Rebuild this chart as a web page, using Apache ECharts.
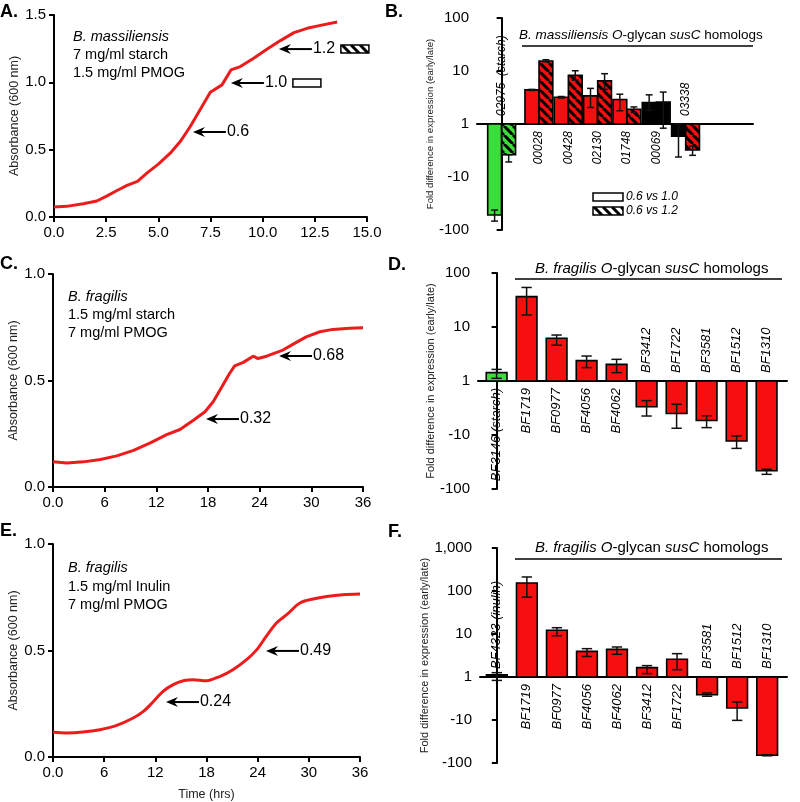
<!DOCTYPE html>
<html><head><meta charset="utf-8">
<script src="https://cdn.jsdelivr.net/npm/echarts@6/dist/echarts.min.js"></script>
<style>html,body{margin:0;padding:0;background:#fff}#c{width:800px;height:802px}</style>
</head><body><div id="c"></div><script>
// ---------------- DATA ----------------
// Panel A: growth curve B. massiliensis (hours, OD600)
const timeA = [0,0.6,1.4,2.05,2.5,3.0,3.5,4.0,4.45,5.0,5.57,6.05,6.53,7.0,7.49,8.05,8.48,8.93,9.57,10.2,10.85,11.5,12.13,12.77,13.57];
const odA   = [0.074,0.079,0.099,0.119,0.153,0.195,0.235,0.264,0.326,0.393,0.474,0.56,0.672,0.796,0.927,0.981,1.092,1.117,1.179,1.245,1.31,1.369,1.401,1.423,1.448];
const arrowsA = [[6.61,0.631,'0.6'],[8.43,0.995,'1.0'],[10.73,1.247,'1.2']];

// Panel B: B. massiliensis fold differences
const genesB = ['02975  (starch)','00028','00428','02130','01748','00069','03338'];
const foldB10 = [-52, 4.4, 3.2, 3.4, 2.9, 2.55, -1.7];
const loB10   = [-68, 4.3, 3.1, 2.05, 1.78, 1.8, -4.2];
const hiB10   = [-42, 4.5, 3.3, 4.7, 3.65, 3.55, -1.0];
const foldB12 = [-3.8, 15.4, 8.3, 6.5, 1.9, 2.6, -3.1];
const loB12   = [-5.2, 15.0, 6.7, 4.5, 1.65, -1.2, -3.9];
const hiB12   = [-3.8, 16.3, 10.1, 8.9, 2.1, 4.0, -2.6];

// Panel C: growth curve B. fragilis starch
const timeC = [0,1.6,3.55,5.5,7.4,9.35,11.3,13.2,14.75,16.3,17.65,18.6,19.6,20.5,21.1,22.1,23.25,23.8,24.8,26.7,27.9,29.4,31,32.5,34.45,36];
const odC   = [0.118,0.113,0.118,0.129,0.146,0.172,0.207,0.246,0.27,0.313,0.353,0.4,0.47,0.533,0.569,0.585,0.614,0.603,0.614,0.643,0.671,0.705,0.729,0.74,0.745,0.748];
const arrowsC = [[26.13,0.615,'0.68'],[17.65,0.319,'0.32']];

// Panel D
const genesD = ['BF3146 (starch)','BF1719','BF0977','BF4056','BF4062','BF3412','BF1722','BF3581','BF1512','BF1310'];
const foldD = [1.43, 36.5, 6.2, 2.38, 2.03, -3.0, -4.0, -5.4, -12.9, -46];
const loD   = [1.12, 16.7, 4.6, 1.77, 1.43, -4.45, -7.5, -7.3, -17.7, -53.5];
const hiD   = [1.64, 54, 7.1, 2.9, 2.52, -2.31, -2.7, -4.4, -10.4, -43];

// Panel E: growth curve B. fragilis inulin
const timeE = [0,1.56,3.5,5.5,7.4,9.4,10.6,11.7,12.9,14.1,15.3,16.4,18,19.6,21.1,22.7,23.9,25.0,26.2,27.4,28.95,30.5,32.1,34.0,36];
const odE   = [0.116,0.113,0.117,0.128,0.147,0.183,0.214,0.257,0.308,0.34,0.358,0.363,0.358,0.379,0.41,0.457,0.504,0.566,0.629,0.668,0.723,0.742,0.754,0.762,0.765];
const arrowsE = [[24.86,0.498,'0.49'],[13.13,0.258,'0.24']];

// Panel F
const genesF = ['BF4323 (inulin)','BF1719','BF0977','BF4056','BF4062','BF3412','BF1722','BF3581','BF1512','BF1310'];
const foldF = [1.13, 153, 12.2, 3.95, 4.4, 1.65, 2.58, -2.58, -5.26, -66];
const loF   = [-1.2, 72, 9.1, 3.0, 3.37, 1.2, 1.48, -2.8, -10.2, -68];
const hiF   = [1.26, 212, 14, 4.56, 4.99, 1.84, 3.49, -2.35, -3.8, -64];

// ---------------- STYLE / LAYOUT ----------------
const FONT = '"Liberation Sans", Arial, sans-serif';
const RED = '#f50f0f', GREEN = '#3ddc3d', BLACK = '#000', LINE_RED = '#ec1c1c';

function slog(v){ return v >= 1 ? Math.log10(v) : (v <= -1 ? -Math.log10(-v) : 0); }
function fmtLog(v){ const n = Math.round(Math.pow(10, Math.abs(v))); const s = n.toLocaleString('en-US'); return v < 0 ? '-' + s : s; }

const patCache = {};
function hatch(bg){
  if (patCache[bg]) return patCache[bg];
  const s = 9, c = document.createElement('canvas'); c.width = s; c.height = s;
  const g = c.getContext('2d'); g.fillStyle = bg; g.fillRect(0,0,s,s);
  g.strokeStyle = '#000'; g.lineWidth = 3; g.beginPath();
  for (let k=-1;k<=1;k++){ g.moveTo(k*s,0); g.lineTo(k*s+s,s); }
  g.stroke();
  return (patCache[bg] = {image:c, repeat:'repeat'});
}

function pairs(xs, ys){ return xs.map((x,i)=>[x, ys[i]]); }

function vtext(x, y, text, align, fs){
  return {type:'text', x, y, rotation:Math.PI/2,
    style:{text, fontSize:fs, fontFamily:FONT, fontStyle:'italic', fill:'#000', align, verticalAlign:'middle'}};
}

function barSeries(idx, bars, fs){
  return {
    type:'custom', xAxisIndex:idx, yAxisIndex:idx, silent:true, z:3, clip:false,
    data: bars.map((b,i)=>[b.x, slog(b.v), slog(b.lo), slog(b.hi), i]),
    renderItem(params, api){
      const b = bars[params.dataIndex];
      const x = api.value(0);
      const top = api.coord([x, api.value(1)]);
      const base = api.coord([x, 0]);
      const w = api.size([b.w, 0])[0];
      const lo = api.coord([x, api.value(2)]), hi = api.coord([x, api.value(3)]);
      const cw = w * 0.5;
      const ch = [
        {type:'rect', shape:{x: top[0]-w/2, y: Math.min(top[1], base[1]), width: w, height: Math.abs(base[1]-top[1])},
         style:{fill: b.hatch ? hatch(b.color) : b.color, stroke:'#000', lineWidth:1.6}},
        {type:'line', shape:{x1: top[0], y1: lo[1], x2: top[0], y2: hi[1]}, style:{stroke:'#111', lineWidth:1.5}},
        {type:'line', shape:{x1: top[0]-cw/2, y1: lo[1], x2: top[0]+cw/2, y2: lo[1]}, style:{stroke:'#111', lineWidth:1.5}},
        {type:'line', shape:{x1: top[0]-cw/2, y1: hi[1], x2: top[0]+cw/2, y2: hi[1]}, style:{stroke:'#111', lineWidth:1.5}}
      ];
      if (b.label){
        const lx = b.lx !== undefined ? api.coord([b.lx, 0])[0] : top[0];
        ch.push(b.labelAbove ? vtext(lx, base[1]-8, b.label, 'left', fs) : vtext(lx, base[1]+7, b.label, 'right', fs));
      }
      return {type:'group', children: ch};
    }
  };
}

function arrowSeries(idx, anns){
  return {
    type:'custom', xAxisIndex:idx, yAxisIndex:idx, silent:true, z:5, clip:false,
    data: anns.map((a,i)=>[a[0], a[1], i]),
    renderItem(params, api){
      const a = anns[params.dataIndex];
      const p = api.coord([api.value(0), api.value(1)]);
      const x = p[0] + 1, y = p[1];
      const ch = [
        {type:'polygon', shape:{points:[[x,y],[x+12,y-5],[x+8,y],[x+12,y+5]]}, style:{fill:'#000'}},
        {type:'line', shape:{x1:x+8, y1:y, x2:x+33, y2:y}, style:{stroke:'#000', lineWidth:2}},
        {type:'text', x:x+34, y:y, style:{text:a[2], fontSize:16, fontFamily:FONT, fill:'#000', align:'left', verticalAlign:'middle'}}
      ];
      if (a[2] === '1.0' || a[2] === '1.2'){
        ch.push({type:'rect', shape:{x:x+62, y:y-4, width:28, height:8},
          style:{fill: a[2] === '1.2' ? hatch('#fff') : '#fff', stroke:'#000', lineWidth:1.5}});
      }
      return {type:'group', children: ch};
    }
  };
}

// Build bar lists
const barsB = [];
genesB.forEach((g,i)=>{
  const cx = i + (i > 0 ? 0.27 : 0);
  const c1 = i === 0 ? GREEN : (i >= 5 ? BLACK : RED);
  const c2 = i === 0 ? GREEN : (i === 5 ? BLACK : RED);
  const above = slog(foldB10[i]) < 0.1;
  barsB.push({x: cx-0.24, v: foldB10[i], lo: loB10[i], hi: hiB10[i], color: c1, hatch:false, w:0.47,
              label: g, labelAbove: above, lx: cx});
  barsB.push({x: cx+0.24, v: foldB12[i], lo: loB12[i], hi: hiB12[i], color: c2, hatch:true, w:0.47});
});
function simpleBars(genes, fold, lo, hi, firstColor){
  return genes.map((g,i)=>({x:i, v:fold[i], lo:lo[i], hi:hi[i], color: i===0 ? firstColor : RED, hatch:false, w:0.69,
    label:g, labelAbove: slog(fold[i]) < 0.1}));
}
const barsD = simpleBars(genesD, foldD, loD, hiD, GREEN);
const barsF = simpleBars(genesF, foldF, loF, hiF, BLACK);

// Axes
const axLine = {show:true, onZero:true, lineStyle:{color:'#000', width:2}};
const axTick = {show:true, length:5, lineStyle:{color:'#000', width:2}};
const lab = (fmt)=>({fontSize:15, color:'#000', margin:8, fontFamily:FONT, formatter:fmt});
function lineX(g, max, interval, fmt, name){
  const a = {type:'value', gridIndex:g, min:0, max, interval, axisLine:axLine, axisTick:axTick,
    axisLabel:lab(fmt), splitLine:{show:false}};
  if (name){ Object.assign(a, {name, nameLocation:'middle', nameGap:31, nameTextStyle:{fontSize:12.5, fontFamily:FONT, color:'#222'}}); }
  return a;
}
function lineY(g, max){
  return {type:'value', gridIndex:g, min:0, max, interval:0.5, axisLine:axLine, axisTick:axTick,
    axisLabel:lab(v=>v.toFixed(1)), splitLine:{show:false},
    name:'Absorbance (600 nm)', nameLocation:'middle', nameGap:33, nameRotate:90,
    nameTextStyle:{fontSize:12.5, fontFamily:FONT, color:'#222'}};
}
function barX(g, min, max){
  return {type:'value', gridIndex:g, min, max, axisLine:axLine, axisTick:{show:false}, axisLabel:{show:false}, splitLine:{show:false}};
}
function barY(g, min, max, fs, gap){
  return {type:'value', gridIndex:g, min, max, interval:1, axisLine:axLine, axisTick:axTick,
    axisLabel:lab(fmtLog), splitLine:{show:false},
    name:'Fold difference in expression (early/late)', nameLocation:'middle', nameGap:gap, nameRotate:90,
    nameTextStyle:{fontSize:fs, fontFamily:FONT, color:'#222'}};
}

function txt(x, y, text, o){
  return {type:'text', x, y, silent:true, style:Object.assign({text, fontSize:14.5, fontFamily:FONT, fill:'#000', verticalAlign:'middle', align:'left'}, o||{})};
}
function title(x, y, species, fs){
  return {type:'text', x, y, silent:true, style:{text:'{i|' + species + '} {i|O}-glycan {i|susC} homologs', fontSize:fs, fontFamily:FONT, fill:'#000', verticalAlign:'middle',
    rich:{i:{fontStyle:'italic', fontSize:fs, fontFamily:FONT, fill:'#000'}}}};
}
function hline(x1, x2, y){ return {type:'line', silent:true, shape:{x1, y1:y, x2, y2:y}, style:{stroke:'#000', lineWidth:1.5}}; }

const graphic = [
  txt(0, 12, 'A.', {fontWeight:'bold', fontSize:18}),
  txt(385, 12, 'B.', {fontWeight:'bold', fontSize:18}),
  txt(0, 264, 'C.', {fontWeight:'bold', fontSize:18}),
  txt(388, 265, 'D.', {fontWeight:'bold', fontSize:18}),
  txt(0, 531, 'E.', {fontWeight:'bold', fontSize:18}),
  txt(388, 532, 'F.', {fontWeight:'bold', fontSize:18}),
  txt(73, 37, 'B. massiliensis', {fontStyle:'italic'}),
  txt(73, 55, '7 mg/ml starch'),
  txt(73, 73, '1.5 mg/ml PMOG'),
  txt(68, 297, 'B. fragilis', {fontStyle:'italic'}),
  txt(68, 315, '1.5 mg/ml starch'),
  txt(68, 333, '7 mg/ml PMOG'),
  txt(68, 568, 'B. fragilis', {fontStyle:'italic'}),
  txt(68, 587, '1.5 mg/ml Inulin'),
  txt(68, 605, '7 mg/ml PMOG'),
  title(519, 35, 'B. massiliensis', 13.5), hline(522, 753, 46),
  title(535, 269, 'B. fragilis', 15), hline(515, 782, 279),
  title(535, 548, 'B. fragilis', 15), hline(515, 782, 559),
  {type:'rect', silent:true, shape:{x:593, y:193, width:30, height:8}, style:{fill:'#fff', stroke:'#000', lineWidth:1.5}},
  {type:'rect', silent:true, shape:{x:593, y:207, width:30, height:8}, style:{fill:hatch('#fff'), stroke:'#000', lineWidth:1.5}},
  txt(626, 197, '0.6 vs 1.0', {fontStyle:'italic', fontSize:12}),
  txt(626, 211, '0.6 vs 1.2', {fontStyle:'italic', fontSize:12})
];

const lineStyle = {color: LINE_RED, width: 3};
const option = {
  animation:false, backgroundColor:'#fff',
  grid:[
    {left:54, top:15, width:313, height:202},
    {left:477, top:18, width:276, height:212},
    {left:53, top:274, width:310, height:213},
    {left:478, top:273, width:309, height:216},
    {left:53, top:544, width:307, height:213},
    {left:480, top:548, width:307, height:215}
  ],
  xAxis:[
    lineX(0, 15, 2.5, v=>v.toFixed(1)),
    barX(1, -0.84, 8.57),
    lineX(2, 36, 6, v=>v===0?'0.0':String(v)),
    barX(3, -0.62, 9.68),
    lineX(4, 36, 6, v=>v===0?'0.0':String(v), 'Time (hrs)'),
    barX(5, -0.56, 9.66)
  ],
  yAxis:[
    lineY(0, 1.5), barY(1, -2, 2, 9.6, 41), lineY(2, 1.0), barY(3, -2, 2, 11, 40), lineY(4, 1.0), barY(5, -2, 3, 11, 42)
  ],
  graphic,
  series:[
    {type:'line', xAxisIndex:0, yAxisIndex:0, data:pairs(timeA, odA), showSymbol:false, lineStyle, silent:true, z:2},
    arrowSeries(0, arrowsA),
    barSeries(1, barsB, 12),
    {type:'line', xAxisIndex:2, yAxisIndex:2, data:pairs(timeC, odC), showSymbol:false, lineStyle, silent:true, z:2},
    arrowSeries(2, arrowsC),
    barSeries(3, barsD, 13),
    {type:'line', xAxisIndex:4, yAxisIndex:4, data:pairs(timeE, odE), showSymbol:false, smooth:0.3, lineStyle, silent:true, z:2},
    arrowSeries(4, arrowsE),
    barSeries(5, barsF, 13)
  ]
};
const chart = echarts.init(document.getElementById('c'), null, {renderer:'canvas'});
chart.setOption(option);
</script></body></html>
